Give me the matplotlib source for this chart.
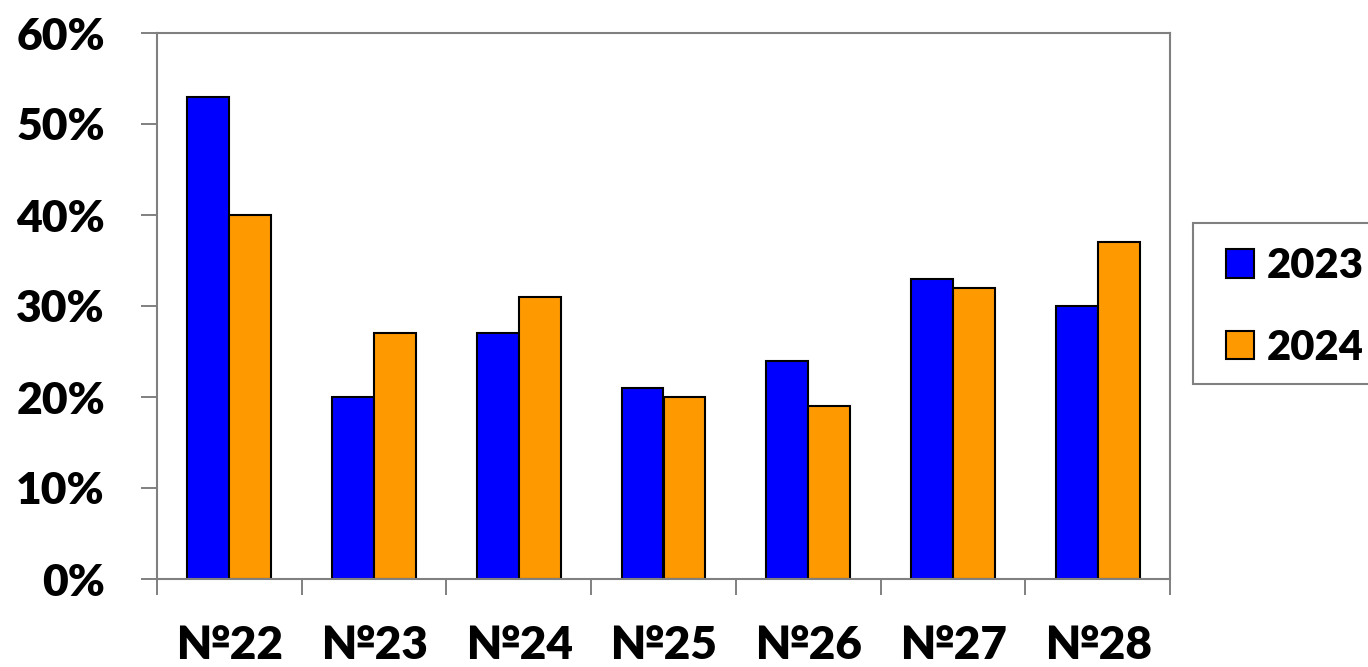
import matplotlib
matplotlib.use("Agg")
import matplotlib.pyplot as plt
import numpy as np
from matplotlib.patches import Rectangle
from matplotlib.ticker import FixedLocator, PercentFormatter

plt.rcParams['font.family'] = ['Lato', 'DejaVu Sans']
plt.rcParams['font.weight'] = 'heavy'

categories = ['№22', '№23', '№24', '№25', '№26', '№27', '№28']
vals_2023 = [53, 20, 27, 21, 24, 33, 30]
vals_2024 = [40, 27, 31, 20, 19, 32, 37]
series_names = ['2023', '2024']

W, H = 1368, 667
fig = plt.figure(figsize=(W / 100, H / 100), dpi=100)
ax = fig.add_axes([157 / W, 88 / H, 1013 / W, 546 / H])

x = np.arange(len(categories))
w = 0.29
ax.bar(x - w / 2, vals_2023, w, color='#0000FF', edgecolor='black', linewidth=1.5, label=series_names[0])
ax.bar(x + w / 2, vals_2024, w, color='#FF9900', edgecolor='black', linewidth=1.5, label=series_names[1])

ax.set_xlim(-0.5, len(categories) - 0.5)
ax.set_ylim(0, 60)
ax.set_yticks(range(0, 61, 10))
ax.yaxis.set_major_formatter(PercentFormatter(decimals=0))

ax.set_xticks(x)
ax.set_xticklabels(categories)
ax.xaxis.set_minor_locator(FixedLocator(np.arange(-0.5, len(categories), 1)))
ax.tick_params(axis='x', which='major', length=0, pad=33, labelsize=33)
ax.tick_params(axis='x', which='minor', length=11.5, width=1.4, color='#808080', direction='out')
ax.tick_params(axis='y', length=11.5, width=1.4, color='#808080', pad=26, labelsize=32)

for s in ax.spines.values():
    s.set_color('#808080')
    s.set_linewidth(1.5)

# legend box runs off the right edge, like the original
fig.patches.append(Rectangle((1193 / W, (H - 384) / H), 200 / W, 161 / H,
                             transform=fig.transFigure, facecolor='white',
                             edgecolor='#808080', linewidth=1.5, zorder=0))
fig.legend(loc='upper left', bbox_to_anchor=(1205 / W, (H - 226) / H),
           fontsize=30, frameon=False, handlelength=0.68, handleheight=0.68,
           handletextpad=0.3, labelspacing=1.05, borderpad=0.5, borderaxespad=0)

fig.savefig('out.png', dpi=100)
